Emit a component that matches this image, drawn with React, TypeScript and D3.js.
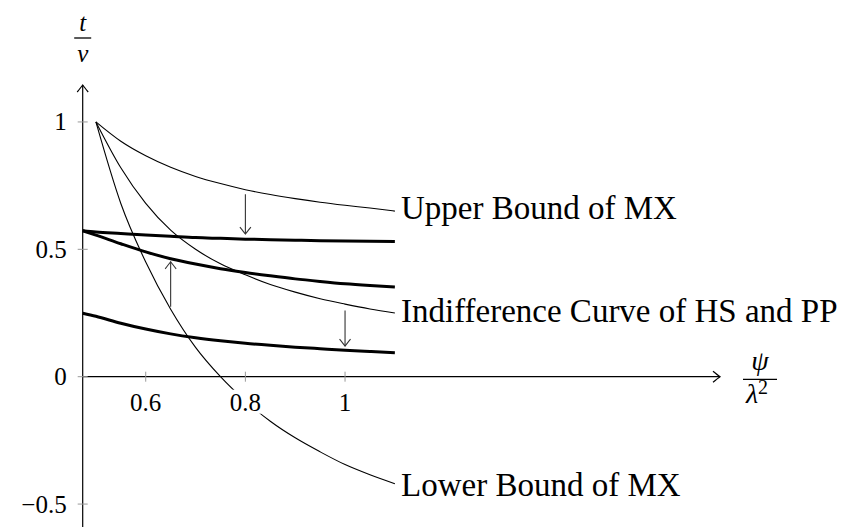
import React from "react";
import * as d3 from "d3";

// ---- data ----
const X_THIN = [0.5, 0.55, 0.6, 0.65, 0.7, 0.75, 0.8, 0.85, 0.9, 0.95, 1.0, 1.05, 1.1];
const UPPER_MX = [1.0, 0.924, 0.867, 0.822, 0.786, 0.758, 0.734, 0.715, 0.699, 0.685, 0.673, 0.662, 0.65];
const INDIFF_HS_PP = [1.0, 0.82, 0.68, 0.575, 0.5, 0.443, 0.4, 0.362, 0.332, 0.306, 0.285, 0.266, 0.25];
const LOWER_MX = [1.0, 0.68, 0.45, 0.265, 0.115, 0.0, -0.095, -0.175, -0.24, -0.295, -0.345, -0.385, -0.42];

const X_THICK = [0.4735, 0.5, 0.55, 0.6, 0.65, 0.7, 0.75, 0.8, 0.85, 0.9, 0.95, 1.0, 1.05, 1.1];
const THICK_TOP = [0.573, 0.568, 0.562, 0.556, 0.551, 0.546, 0.543, 0.54, 0.538, 0.536, 0.534, 0.533, 0.532, 0.531];
const THICK_MID = [0.573, 0.556, 0.522, 0.49, 0.463, 0.442, 0.424, 0.409, 0.396, 0.384, 0.374, 0.365, 0.358, 0.352];
const THICK_LOW = [0.249, 0.237, 0.21, 0.187, 0.168, 0.153, 0.141, 0.131, 0.123, 0.116, 0.11, 0.104, 0.099, 0.094];

const X_TICKS = [0.6, 0.8, 1];
const X_TICK_LABELS = ["0.6", "0.8", "1"];
const Y_TICKS = [-0.5, 0, 0.5, 1];
const Y_TICK_LABELS = ["\u22120.5", "0", "0.5", "1"];

// arrows: x, from y, to y
const ARROW_X = [0.8, 0.65, 1.0];
const ARROW_FROM = [0.716, 0.275, 0.26];
const ARROW_TO = [0.56, 0.451, 0.12];

const CURVE_LABELS = ["Upper Bound of MX", "Indifference Curve of HS and PP", "Lower Bound of MX"];

const W = 849;
const H = 527;
const SERIF = '"Liberation Serif", "DejaVu Serif", "Times New Roman", serif';
const fs = (size: number, italic = false): React.CSSProperties => ({
  fontFamily: SERIF,
  fontSize: size + "px",
  fontStyle: italic ? "italic" : "normal",
});

export default function App() {
  const x = d3.scaleLinear().domain([0.4735, 1.7525]).range([82.7, 720]);
  const y = d3.scaleLinear().domain([-0.59, 1.145]).range([527, 85]);

  const line = d3
    .line<[number, number]>()
    .x((d) => x(d[0]))
    .y((d) => y(d[1]))
    .curve(d3.curveMonotoneX);

  const thin = [UPPER_MX, INDIFF_HS_PP, LOWER_MX].map((s) =>
    line(X_THIN.map((v, i) => [v, s[i]] as [number, number]))
  );
  const thick = [THICK_TOP, THICK_MID, THICK_LOW].map((s) =>
    line(X_THICK.map((v, i) => [v, s[i]] as [number, number]))
  );
  const ends = [UPPER_MX, INDIFF_HS_PP, LOWER_MX].map((s) => s[s.length - 1]);
  const labelDy = [8, 8.5, 12];

  const x0 = x(0.4735);
  const y0 = y(0);

  const head = "M -5.5 -7 Q -1.5 -2.2 0 0 Q 1.5 -2.2 5.5 -7";

  return (
    <svg width={W} height={H} style={{ position: "absolute", left: 0, top: 0, background: "#fff" }}>
      <rect width={W} height={H} fill="#fff" />

      {/* axes */}
      <line x1={x0} y1={H} x2={x0} y2={y(1.145)} stroke="#000" strokeWidth={1.2} />
      <path d={head} transform={`translate(${x0},${y(1.145)}) rotate(180)`} fill="none" stroke="#000" strokeWidth={1.2} />
      <line x1={x0} y1={y0} x2={x(1.7525)} y2={y0} stroke="#000" strokeWidth={1.2} />
      <path d={head} transform={`translate(${x(1.7525)},${y0}) rotate(-90)`} fill="none" stroke="#000" strokeWidth={1.2} />

      {/* ticks */}
      {X_TICKS.map((t) => (
        <line key={"xt" + t} x1={x(t)} x2={x(t)} y1={y0 - 5} y2={y0 + 5} stroke="#999" strokeWidth={1} />
      ))}
      {Y_TICKS.map((t) => (
        <line key={"yt" + t} x1={x0 - 5} x2={x0 + 5} y1={y(t)} y2={y(t)} stroke="#999" strokeWidth={1} />
      ))}

      {/* curves */}
      {thin.map((d, i) => (
        <path key={"thin" + i} d={d || ""} fill="none" stroke="#000" strokeWidth={1.1} />
      ))}
      {thick.map((d, i) => (
        <path key={"thick" + i} d={d || ""} fill="none" stroke="#000" strokeWidth={3} />
      ))}

      {/* arrows */}
      {ARROW_X.map((ax, i) => {
        const up = ARROW_TO[i] > ARROW_FROM[i];
        return (
          <g key={"arr" + i}>
            <line x1={x(ax)} x2={x(ax)} y1={y(ARROW_FROM[i])} y2={y(ARROW_TO[i])} stroke="#333" strokeWidth={1.1} />
            <path
              d={head}
              transform={`translate(${x(ax)},${y(ARROW_TO[i])}) rotate(${up ? 180 : 0})`}
              fill="none"
              stroke="#333"
              strokeWidth={1.1}
            />
          </g>
        );
      })}

      {/* tick labels */}
      {X_TICKS.map((t, i) => (
        <g key={"xl" + t}>
          <rect x={x(t) - 20} y={y0 + 13} width={40} height={24} fill="#fff" />
          <text x={x(t)} y={y0 + 34} textAnchor="middle" style={fs(25)}>
            {X_TICK_LABELS[i]}
          </text>
        </g>
      ))}
      {Y_TICKS.map((t, i) => (
        <text key={"yl" + t} x={x0 - 16} y={y(t) + 8.5} textAnchor="end" style={fs(25)}>
          {Y_TICK_LABELS[i]}
        </text>
      ))}

      {/* curve labels */}
      {CURVE_LABELS.map((s, i) => (
        <text key={"cl" + i} x={401} y={y(ends[i]) + labelDy[i]} style={fs(33)}>
          {s}
        </text>
      ))}

      {/* axis labels */}
      <text x={x0} y={31} textAnchor="middle" style={fs(25, true)}>t</text>
      <line x1={x0 - 8.5} x2={x0 + 8.5} y1={38} y2={38} stroke="#000" strokeWidth={1.3} />
      <text x={x0} y={62} textAnchor="middle" style={fs(25, true)}>v</text>

      <text x={760} y={370} textAnchor="middle" style={fs(28, true)}>ψ</text>
      <line x1={743} x2={777} y1={379.3} y2={379.3} stroke="#000" strokeWidth={1.3} />
      <text x={757} y={403} textAnchor="middle" style={fs(28)}>
        <tspan style={{ fontStyle: "italic" }}>λ</tspan>
        <tspan dy={-9} style={{ fontSize: "20px" }}>2</tspan>
      </text>
    </svg>
  );
}
